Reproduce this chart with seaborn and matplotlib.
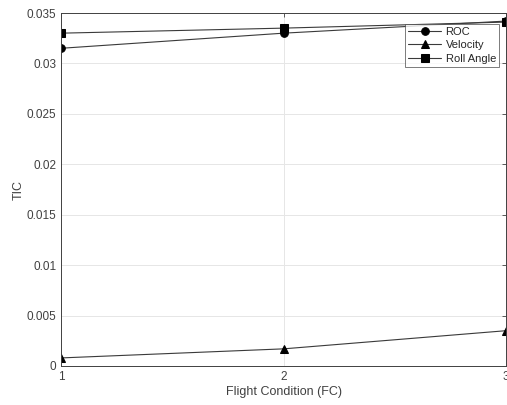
import matplotlib
matplotlib.use("Agg")
import matplotlib.pyplot as plt
import seaborn as sns
import pandas as pd

conditions = [1, 2, 3]
roc = [0.0315, 0.0330, 0.0342]
velocity = [0.0008, 0.0017, 0.0035]
roll_angle = [0.0330, 0.0335, 0.0341]
series_names = ["ROC", "Velocity", "Roll Angle"]
y_ticks = [0, 0.005, 0.01, 0.015, 0.02, 0.025, 0.03, 0.035]
y_tick_labels = ["0", "0.005", "0.01", "0.015", "0.02", "0.025", "0.03", "0.035"]

sns.set_theme(style="white")
plt.rcParams['font.family'] = ['Liberation Sans', 'DejaVu Sans']

df = pd.DataFrame({
    "FC": conditions * 3,
    "TIC": roc + velocity + roll_angle,
    "Series": [series_names[0]] * 3 + [series_names[1]] * 3 + [series_names[2]] * 3,
})

txt = "#404040"
fig = plt.figure(figsize=(5.07, 4.05), dpi=100)
ax = fig.add_axes([61 / 507, 1 - 366 / 405, 445 / 507, 353 / 405])

sns.lineplot(data=df, x="FC", y="TIC", hue="Series", style="Series",
             markers={"ROC": "o", "Velocity": "^", "Roll Angle": "s"},
             dashes=False,
             palette={"ROC": "#3a3a3a", "Velocity": "#3a3a3a", "Roll Angle": "#3a3a3a"},
             markersize=5.5, linewidth=0.8, ax=ax, legend=True)
for line in ax.lines:
    line.set_markerfacecolor("black")
    line.set_markeredgecolor("black")

ax.set_xlim(1, 3)
ax.set_ylim(0, 0.035)
ax.set_xticks(conditions)
ax.set_xticklabels([str(c) for c in conditions])
ax.set_yticks(y_ticks)
ax.set_yticklabels(y_tick_labels)
ax.grid(True, color="#e6e6e6", linewidth=0.7)
ax.tick_params(direction="in", length=3, colors="#404040", labelsize=8.5,
               top=True, right=True, width=0.6)
ax.tick_params(axis="both", labelcolor=txt)
for s in ax.spines.values():
    s.set_color("#404040")
    s.set_linewidth(0.7)
ax.set_xlabel("Flight Condition (FC)", fontsize=9, color=txt, labelpad=2)
ax.set_ylabel("TIC", fontsize=9, color=txt, labelpad=1)

leg = ax.legend(loc="upper right", bbox_to_anchor=(0.985, 0.97), fontsize=8,
                frameon=True, fancybox=False, edgecolor="#404040",
                handlelength=3.0, borderpad=0.3, labelspacing=0.3,
                handletextpad=0.4, borderaxespad=0.0)
leg.get_frame().set_linewidth(0.6)
for t in leg.get_texts():
    t.set_color("#262626")
for h in leg.get_lines():
    h.set_markerfacecolor("black")
    h.set_markeredgecolor("black")

fig.savefig("out.png", dpi=100)
